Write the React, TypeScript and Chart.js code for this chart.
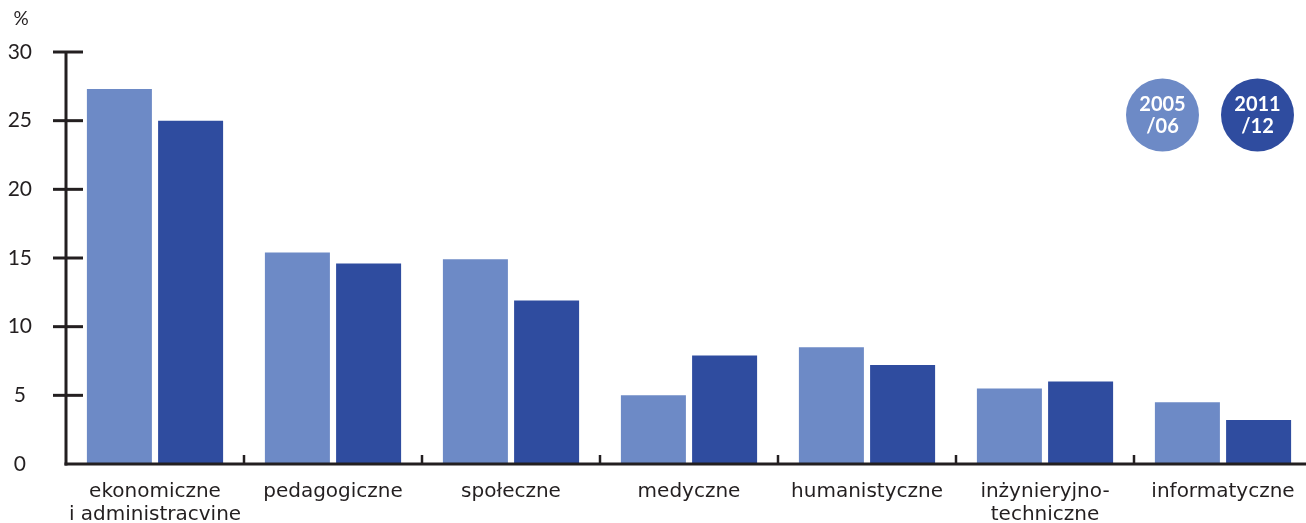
import React, { useEffect, useRef } from "react";
import { Chart, registerables } from "chart.js";

Chart.register(...registerables);

const categories: (string | string[])[] = [
  ["ekonomiczne", "i administracvine"],
  "pedagogiczne",
  "społeczne",
  "medyczne",
  "humanistyczne",
  ["inżynieryjno-", "techniczne"],
  "informatyczne",
];
const seriesLabels = ["2005/06", "2011/12"];
const legendLines = [["2005", "/06"], ["2011", "/12"]];
const values2005 = [27.3, 15.4, 14.9, 5.0, 8.5, 5.5, 4.5];
const values2011 = [25.0, 14.6, 11.9, 7.9, 7.2, 6.0, 3.2];
const yTicks = [0, 5, 10, 15, 20, 25, 30];

const LIGHT = "#6d8ac6";
const DARK = "#2f4c9f";
const INK = "#231f20";

const decorPlugin = {
  id: "decor",
  afterDatasetsDraw(chart: any) {
    const { ctx, chartArea, scales } = chart;
    const x = scales.x;
    const y = scales.y;
    ctx.save();
    ctx.strokeStyle = INK;
    ctx.lineCap = "butt";
    // y axis
    ctx.lineWidth = 3;
    ctx.beginPath();
    ctx.moveTo(chartArea.left, y.getPixelForValue(30));
    ctx.lineTo(chartArea.left, chartArea.bottom + 1.5);
    ctx.stroke();
    // x axis
    ctx.beginPath();
    ctx.moveTo(chartArea.left - 1.5, chartArea.bottom);
    ctx.lineTo(chartArea.right, chartArea.bottom);
    ctx.stroke();
    // y ticks
    ctx.lineWidth = 3;
    yTicks.forEach((v) => {
      if (v === 0) return;
      const py = y.getPixelForValue(v);
      ctx.beginPath();
      ctx.moveTo(chartArea.left - 13, py);
      ctx.lineTo(chartArea.left + 17, py);
      ctx.stroke();
    });
    // x category boundary ticks
    ctx.lineWidth = 2.5;
    for (let i = 0; i < categories.length - 1; i++) {
      const px = (x.getPixelForValue(i) + x.getPixelForValue(i + 1)) / 2;
      ctx.beginPath();
      ctx.moveTo(px, chartArea.bottom - 9);
      ctx.lineTo(px, chartArea.bottom);
      ctx.stroke();
    }
    // percent label
    ctx.fillStyle = INK;
    ctx.font = "19px Lato";
    ctx.textAlign = "center";
    ctx.textBaseline = "middle";
    ctx.fillText("%", 21, 19);
    // legend circles
    const colors = [LIGHT, DARK];
    const centers = [1162.5, 1257.5];
    centers.forEach((cx, i) => {
      ctx.fillStyle = colors[i];
      ctx.beginPath();
      ctx.arc(cx, 115, 36.5, 0, Math.PI * 2);
      ctx.fill();
      ctx.fillStyle = "#ffffff";
      ctx.font = "bold 20px Lato";
      ctx.textAlign = "center";
      ctx.textBaseline = "middle";
      ctx.fillText(legendLines[i][0], cx, 105);
      ctx.fillText(legendLines[i][1], cx, 127);
    });
    ctx.restore();
  },
};

export default function App() {
  const ref = useRef<HTMLCanvasElement>(null);
  useEffect(() => {
    if (!ref.current) return;
    const chart = new Chart(ref.current, {
      type: "bar",
      data: {
        labels: categories as any,
        datasets: [
          {
            label: seriesLabels[0],
            data: values2005,
            backgroundColor: LIGHT,
            categoryPercentage: 0.8,
            barPercentage: 0.913,
          },
          {
            label: seriesLabels[1],
            data: values2011,
            backgroundColor: DARK,
            categoryPercentage: 0.8,
            barPercentage: 0.913,
          },
        ],
      },
      options: {
        responsive: false,
        animation: false,
        devicePixelRatio: 1,
        layout: { padding: { top: 52, left: 0, right: 0, bottom: 0 } },
        plugins: {
          legend: { display: false },
          tooltip: { enabled: false },
        },
        scales: {
          x: {
            grid: { display: false, drawTicks: false },
            border: { display: false },
            ticks: {
              font: { family: "DejaVu Sans", size: 20, lineHeight: 1.15 },
              color: INK,
              padding: 16,
              maxRotation: 0,
              autoSkip: false,
            },
            afterFit: (s: any) => {
              s.height = 59;
            },
          },
          y: {
            min: 0,
            max: 30,
            grid: { display: false, drawTicks: false },
            border: { display: false },
            ticks: {
              stepSize: 5,
              font: { family: "Lato", size: 21 },
              color: INK,
              crossAlign: "center",
              padding: 34,
            },
            afterFit: (s: any) => {
              s.width = 66;
            },
          },
        },
      },
      plugins: [decorPlugin],
    });
    return () => chart.destroy();
  }, []);
  return (
    <div
      style={{
        position: "absolute",
        left: 0,
        top: 0,
        width: 1306,
        height: 523,
        overflow: "hidden",
        background: "#fff",
      }}
    >
      <canvas ref={ref} width={1312} height={523} style={{ display: "block" }} />
    </div>
  );
}
